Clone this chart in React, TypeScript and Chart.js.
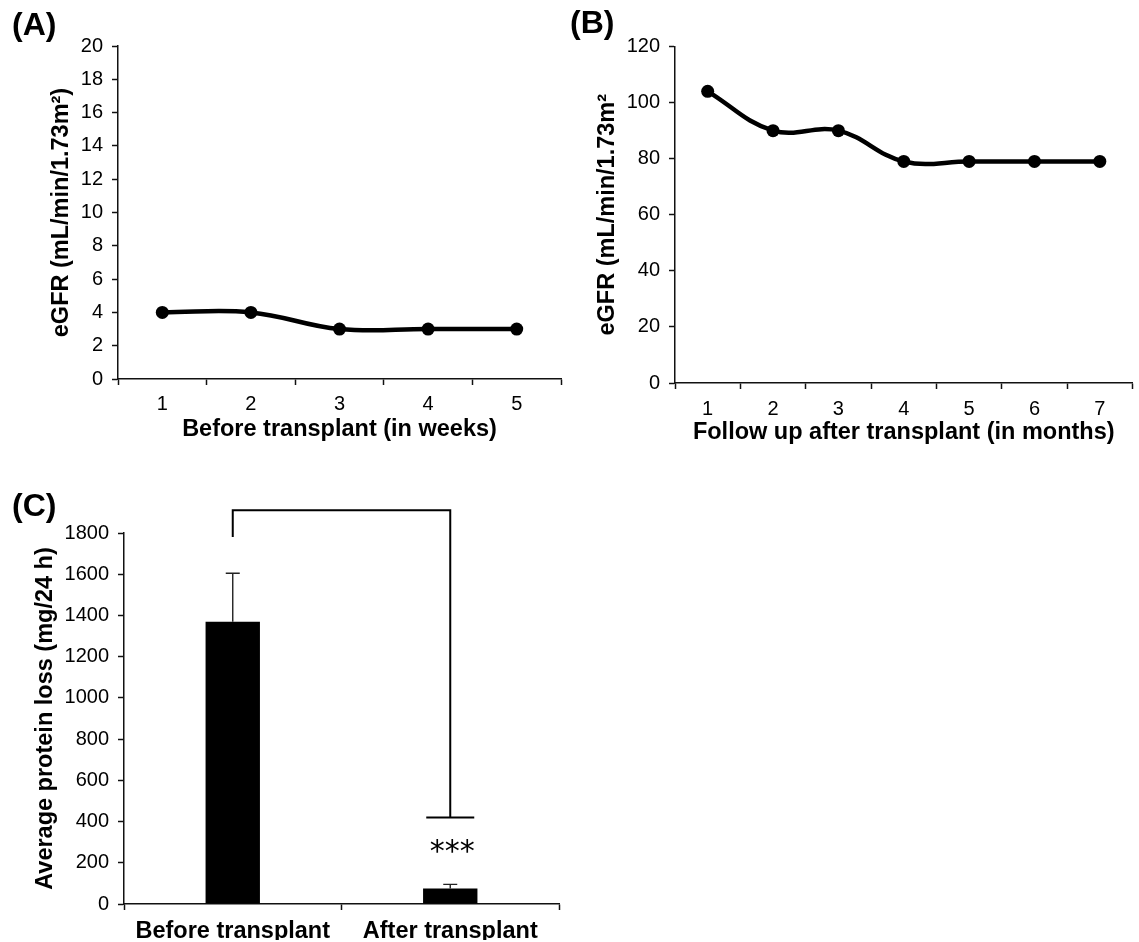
import React, { useEffect, useRef } from "react";
import { Chart, registerables } from "chart.js";

Chart.register(...registerables);

const PAGE_W = 1139;
const PAGE_H = 942;
const FONT = '"Liberation Sans", Arial, Helvetica, sans-serif';

// ---------- Panel A: eGFR before transplant ----------
const weeksLabels = ["1", "2", "3", "4", "5"];
const egfrBefore = [4, 4, 3, 3, 3];
const egfrBeforeMax = 20;
const egfrBeforeStep = 2;

// ---------- Panel B: eGFR after transplant ----------
const monthsLabels = ["1", "2", "3", "4", "5", "6", "7"];
const egfrAfter = [104, 90, 90, 79, 79, 79, 79];
const egfrAfterMax = 120;
const egfrAfterStep = 20;

// ---------- Panel C: protein loss ----------
const groupLabels = ["Before transplant", "After transplant"];
const proteinLoss = [1370, 75];
const proteinErr = [235, 20];
const proteinMax = 1800;
const proteinStep = 200;
// significance bracket (data values)
const bracketTopValue = 1910;
const bracketLeftEndValue = 1780;
const bracketRightEndValue = 420;
const starsValue = 245;
const starsText = "***";

type Box = { left: number; right: number; top: number; bottom: number; yTitleX: number; xBottom: number };

const TICK_SIZE = 20;
const TITLE_SIZE = 23.5;
const TITLE_LH = TITLE_SIZE * 1.2;

function titleFont() {
  return { family: FONT, size: TITLE_SIZE, weight: "bold" as const, lineHeight: 1.2 };
}

function layoutFor(b: Box) {
  const padLeft = b.yTitleX - TITLE_LH / 2;
  const yW = b.left - padLeft;
  const xH = b.xBottom - b.bottom;
  return {
    padding: { left: padLeft, right: PAGE_W - b.right, top: b.top, bottom: PAGE_H - b.xBottom },
    yW,
    xH,
  };
}

function panelLabel(text: string, x: number, y: number) {
  return {
    id: "panelLabel" + text.replace(/\W/g, ""),
    afterDraw(chart: any) {
      const ctx = chart.ctx;
      ctx.save();
      ctx.fillStyle = "#000";
      ctx.font = `bold 32px ${FONT}`;
      ctx.textAlign = "left";
      ctx.textBaseline = "middle";
      ctx.fillText(text, x, y);
      ctx.restore();
    },
  };
}

function yScale(max: number, step: number, title: string, yW: number) {
  return {
    type: "linear",
    min: 0,
    max,
    ticks: {
      stepSize: step,
      padding: 9,
      color: "#000",
      font: { family: FONT, size: TICK_SIZE },
      autoSkip: false,
      callback: (v: any) => String(v),
    },
    grid: { drawOnChartArea: false, drawTicks: true, tickLength: 6, tickWidth: 1.5, tickColor: "#111" },
    border: { display: true, color: "#111", width: 1.5 },
    title: { display: true, text: title, color: "#000", font: titleFont(), padding: 0 },
    afterFit: (s: any) => {
      s.width = yW;
    },
  };
}

function xScale(title: string | null, xH: number, pad: number, size: number, bold: boolean) {
  return {
    type: "category",
    offset: true,
    ticks: {
      padding: pad,
      color: "#000",
      font: { family: FONT, size, weight: bold ? "bold" : "normal" },
      autoSkip: false,
      maxRotation: 0,
    },
    grid: { offset: true, drawOnChartArea: false, drawTicks: true, tickLength: 6, tickWidth: 1.5, tickColor: "#111" },
    border: { display: true, color: "#111", width: 1.5 },
    title: title
      ? { display: true, text: title, color: "#000", font: titleFont(), padding: 0 }
      : { display: false },
    afterFit: (s: any) => {
      s.height = xH;
    },
  };
}

function makeLineChart(
  canvas: HTMLCanvasElement,
  labels: string[],
  values: number[],
  max: number,
  step: number,
  yTitle: string,
  xTitle: string,
  box: Box,
  xTickPad: number,
  label: string,
  labelPos: [number, number]
) {
  const L = layoutFor(box);
  return new Chart(canvas, {
    type: "line",
    data: {
      labels,
      datasets: [
        {
          data: values,
          borderColor: "#000",
          backgroundColor: "#000",
          borderWidth: 4.5,
          pointRadius: 6.5,
          pointBorderWidth: 0,
          pointBackgroundColor: "#000",
          tension: 0.4,
          fill: false,
        },
      ],
    },
    options: {
      responsive: false,
      animation: false,
      events: [],
      layout: { padding: L.padding },
      plugins: { legend: { display: false }, tooltip: { enabled: false } },
      scales: {
        x: xScale(xTitle, L.xH, xTickPad, TICK_SIZE, false) as any,
        y: yScale(max, step, yTitle, L.yW) as any,
      },
    },
    plugins: [panelLabel(label, labelPos[0], labelPos[1])],
  } as any);
}

const barExtras = {
  id: "barExtras",
  afterDraw(chart: any) {
    const ctx = chart.ctx;
    const xs = chart.scales.x;
    const ys = chart.scales.y;
    ctx.save();
    // error bars (upper only)
    ctx.strokeStyle = "#222";
    ctx.lineWidth = 1.4;
    proteinLoss.forEach((v, i) => {
      const x = xs.getPixelForValue(i);
      const y0 = ys.getPixelForValue(v);
      const y1 = ys.getPixelForValue(v + proteinErr[i]);
      ctx.beginPath();
      ctx.moveTo(x, y0);
      ctx.lineTo(x, y1);
      ctx.moveTo(x - 7, y1);
      ctx.lineTo(x + 7, y1);
      ctx.stroke();
    });
    // significance bracket
    const xa = xs.getPixelForValue(0);
    const xb = xs.getPixelForValue(1);
    const yt = ys.getPixelForValue(bracketTopValue);
    const yl = ys.getPixelForValue(bracketLeftEndValue);
    const yr = ys.getPixelForValue(bracketRightEndValue);
    ctx.strokeStyle = "#000";
    ctx.lineWidth = 2;
    ctx.beginPath();
    ctx.moveTo(xa, yl);
    ctx.lineTo(xa, yt);
    ctx.lineTo(xb, yt);
    ctx.lineTo(xb, yr);
    ctx.moveTo(xb - 24, yr);
    ctx.lineTo(xb + 24, yr);
    ctx.stroke();
    // stars
    ctx.fillStyle = "#000";
    ctx.font = `30px "DejaVu Sans", sans-serif`;
    ctx.textAlign = "center";
    ctx.textBaseline = "middle";
    ctx.fillText(starsText, xb + 2, ys.getPixelForValue(starsValue));
    ctx.restore();
  },
};

function makeBarChart(canvas: HTMLCanvasElement) {
  const box: Box = { left: 124, right: 559, top: 533, bottom: 904, yTitleX: 46, xBottom: 940 };
  const L = layoutFor(box);
  return new Chart(canvas, {
    type: "bar",
    data: {
      labels: groupLabels,
      datasets: [
        {
          data: proteinLoss,
          backgroundColor: "#000",
          borderWidth: 0,
          barPercentage: 0.25,
          categoryPercentage: 1,
        },
      ],
    },
    options: {
      responsive: false,
      animation: false,
      events: [],
      layout: { padding: L.padding },
      plugins: { legend: { display: false }, tooltip: { enabled: false } },
      scales: {
        x: xScale(null, L.xH, 7, 23.5, true) as any,
        y: yScale(proteinMax, proteinStep, "Average protein loss (mg/24 h)", L.yW) as any,
      },
    },
    plugins: [barExtras, panelLabel("(C)", 12, 507)],
  } as any);
}

export default function App() {
  const aRef = useRef<HTMLCanvasElement>(null);
  const bRef = useRef<HTMLCanvasElement>(null);
  const cRef = useRef<HTMLCanvasElement>(null);

  useEffect(() => {
    const charts: Chart[] = [];
    if (aRef.current) {
      charts.push(
        makeLineChart(
          aRef.current,
          weeksLabels,
          egfrBefore,
          egfrBeforeMax,
          egfrBeforeStep,
          "eGFR (mL/min/1.73m\u00B2)",
          "Before transplant (in weeks)",
          { left: 118, right: 561, top: 46, bottom: 379, yTitleX: 62, xBottom: 444 },
          7,
          "(A)",
          [12, 26]
        )
      );
    }
    if (bRef.current) {
      charts.push(
        makeLineChart(
          bRef.current,
          monthsLabels,
          egfrAfter,
          egfrAfterMax,
          egfrAfterStep,
          "eGFR (mL/min/1.73m\u00B2",
          "Follow up after transplant (in months)",
          { left: 675, right: 1138, top: 46.5, bottom: 383, yTitleX: 608, xBottom: 447 },
          8,
          "(B)",
          [570, 24]
        )
      );
    }
    if (cRef.current) charts.push(makeBarChart(cRef.current));
    return () => charts.forEach((c) => c.destroy());
  }, []);

  const cs: React.CSSProperties = { position: "absolute", left: 0, top: 0 };
  return (
    <div style={{ position: "absolute", left: 0, top: 0, width: PAGE_W, height: PAGE_H, background: "#fff", overflow: "hidden" }}>
      <canvas ref={aRef} width={PAGE_W} height={PAGE_H} style={cs} />
      <canvas ref={bRef} width={PAGE_W} height={PAGE_H} style={cs} />
      <canvas ref={cRef} width={PAGE_W} height={PAGE_H} style={cs} />
    </div>
  );
}
